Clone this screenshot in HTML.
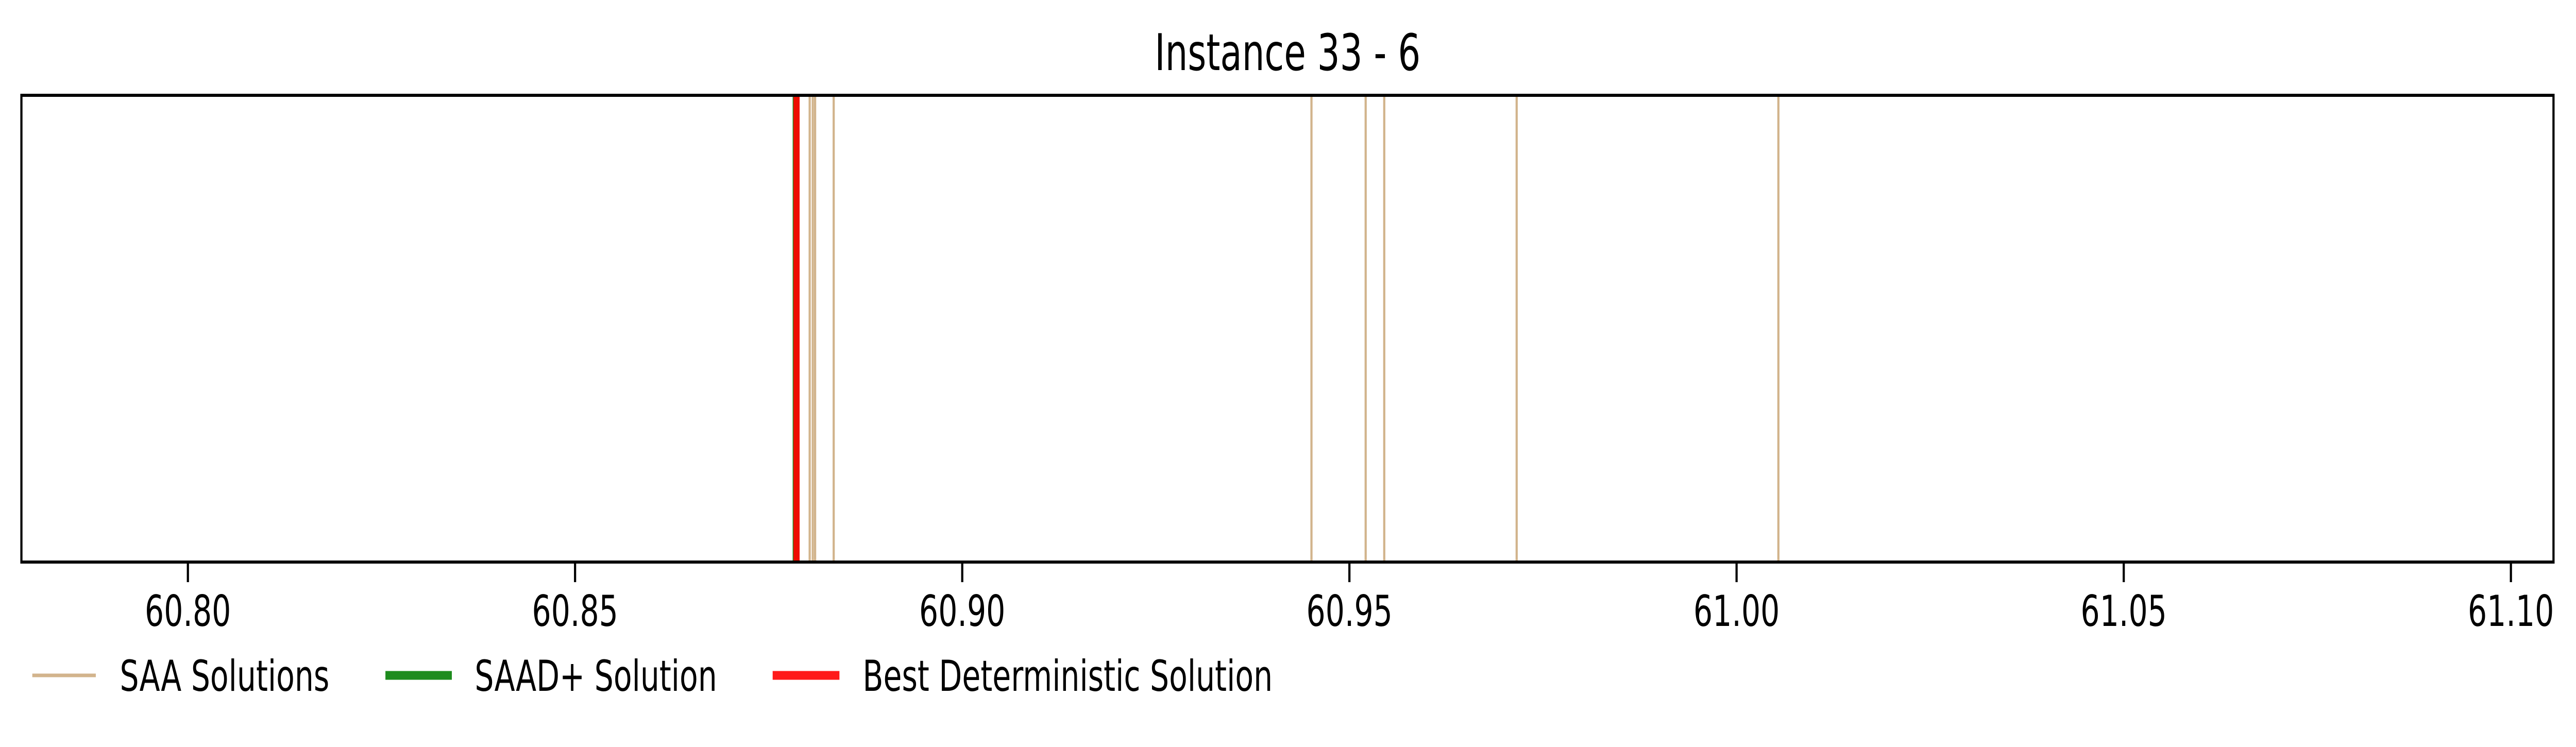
<!DOCTYPE html>
<html><head><meta charset="utf-8"><style>
html,body{margin:0;padding:0;background:#fff;width:100%;height:100%;overflow:hidden;}
svg{display:block;width:100vw;height:100vh;font-family:"DejaVu Sans","Liberation Sans",sans-serif;}
</style></head><body>
<svg id="chart" viewBox="0 0 7098 1450" preserveAspectRatio="none" xmlns="http://www.w3.org/2000/svg">
<rect x="0" y="0" width="7098" height="1450" fill="#fff"/>
<text x="3548" y="136" font-size="98" text-anchor="middle">Instance 33 - 6</text>
<g id="marks"></g>
<g id="ticks"></g>
<rect x="59" y="185" width="6977" height="906" fill="none" stroke="#000" stroke-width="6"/>
<g>
<g>
<line x1="89" y1="1311" x2="264" y2="1311" stroke="#d2b48c" stroke-width="7"/>
<text x="330" y="1341" font-size="83">SAA Solutions</text>
</g>
<g>
<line x1="1062" y1="1311" x2="1245" y2="1311" stroke="#1e8c1e" stroke-width="17"/>
<text x="1308" y="1341" font-size="83">SAAD+ Solution</text>
</g>
<g>
<line x1="2129" y1="1311" x2="2313" y2="1311" stroke="#ff1a1a" stroke-width="17"/>
<text x="2377" y="1341" font-size="83">Best Deterministic Solution</text>
</g>
</g>
</svg>
<script>
const saaValues = [60.8803, 60.8807, 60.8810, 60.8834, 60.9451, 60.9521, 60.9545, 60.9716, 61.0054];
const saadValue = [60.8785];
const bestDetValue = [60.8786];
const tickValues = [60.80, 60.85, 60.90, 60.95, 61.00, 61.05, 61.10];
const tickLabels = ["60.80", "60.85", "60.90", "60.95", "61.00", "61.05", "61.10"];
const xDomain = [60.7785, 61.1055];

const NS = "http://www.w3.org/2000/svg";
const L = 59, R = 7036, T = 185, B = 1091;
function xScale(v){ return L + (v - xDomain[0]) / (xDomain[1] - xDomain[0]) * (R - L); }
const marks = document.getElementById('marks');
function vline(v, color, w, name){
  const ln = document.createElementNS(NS, 'line');
  const x = xScale(v);
  ln.setAttribute('x1', x); ln.setAttribute('x2', x);
  ln.setAttribute('y1', T); ln.setAttribute('y2', B);
  ln.setAttribute('stroke', color); ln.setAttribute('stroke-width', w);
  
  
  marks.appendChild(ln);
}
saaValues.forEach(v => vline(v, '#d2b48c', 6, 'saa-solution-line'));
saadValue.forEach(v => vline(v, '#1e8c1e', 17, 'saad-solution-line'));
bestDetValue.forEach(v => vline(v, '#ee0e00', 17, 'best-deterministic-line'));

const ticks = document.getElementById('ticks');
tickValues.forEach((v, i) => {
  const x = xScale(v);
  const tk = document.createElementNS(NS, 'line');
  tk.setAttribute('x1', x); tk.setAttribute('x2', x);
  tk.setAttribute('y1', B); tk.setAttribute('y2', 1130);
  tk.setAttribute('stroke', '#000'); tk.setAttribute('stroke-width', 6);
  
  
  ticks.appendChild(tk);
  const tx = document.createElementNS(NS, 'text');
  tx.setAttribute('x', x); tx.setAttribute('y', 1215);
  tx.setAttribute('font-size', 83); tx.setAttribute('text-anchor', 'middle');
  tx.textContent = tickLabels[i];
  
  
  ticks.appendChild(tx);
});
</script>
</body></html>
